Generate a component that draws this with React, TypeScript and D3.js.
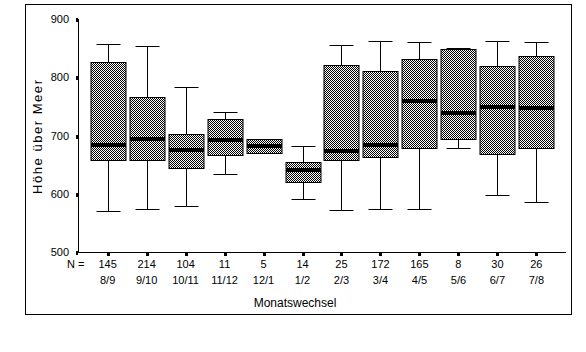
import React from 'react';
import * as d3 from 'd3';

// Monatswechsel categories and counts
const months = ['8/9', '9/10', '10/11', '11/12', '12/1', '1/2', '2/3', '3/4', '4/5', '5/6', '6/7', '7/8'];
const counts = [145, 214, 104, 11, 5, 14, 25, 172, 165, 8, 30, 26];

// box statistics (Höhe über Meer)
const whiskerLow = [570, 575, 579, 635, 671, 591, 572, 574, 574, 678, 598, 586];
const quartLow = [658, 658, 644, 667, 671, 620, 659, 663, 678, 694, 668, 678];
const medians = [684, 694, 676, 692, 683, 641, 674, 684, 760, 738, 749, 747];
const quartHigh = [827, 767, 702, 728, 694, 654, 821, 811, 831, 848, 819, 836];
const whiskerHigh = [857, 853, 783, 740, 694, 683, 855, 862, 860, 851, 862, 860];

const yTicks = [500, 600, 700, 800, 900];

const W = 586;
const H = 352;
const font = 'Arial, "Liberation Sans", Helvetica, sans-serif';

const App = () => {
  const x = d3.scalePoint<string>().domain(months).range([78, 566]).padding(0.76);
  const y = d3.scaleLinear().domain([500, 900]).range([252.3, 19]);

  const boxW = 35;
  const capW = 24;

  return (
    <svg width={W} height={H} style={{ position: 'absolute', left: 0, top: 0, background: '#fff' }}>
      <defs>
        <pattern id="dither" width={2} height={2} patternUnits="userSpaceOnUse">
          <rect width={2} height={2} fill="#fff" />
          <rect x={0} y={0} width={1} height={1} fill="#000" />
          <rect x={1} y={1} width={1} height={1} fill="#000" />
        </pattern>
      </defs>

      {/* outer frame */}
      <rect x={25.5} y={4.5} width={546} height={310} fill="none" stroke="#000" strokeWidth={1} />

      {/* y axis */}
      <line x1={78.5} x2={78.5} y1={y(900)} y2={252.5} stroke="#000" shapeRendering="crispEdges" />
      {yTicks.map((t) => (
        <g key={t}>
          <rect x={76} y={Math.round(y(t)) - 1} width={2} height={4} fill="#000" />
          <text x={69} y={y(t) + 4} textAnchor="end" fontFamily={font} fontSize={11}>
            {t}
          </text>
        </g>
      ))}
      <text
        transform={`translate(42,137) rotate(-90)`}
        textAnchor="middle"
        fontFamily={font}
        fontSize={13}
        textLength={114}
        lengthAdjust="spacing"
      >
        Höhe über Meer
      </text>

      {/* x axis */}
      <line x1={78} x2={566} y1={252.5} y2={252.5} stroke="#000" shapeRendering="crispEdges" />
      {months.map((m) => (
        <rect key={m} x={Math.round(x(m)!) - 1} y={253} width={3} height={3} fill="#000" />
      ))}
      <text x={67} y={268} fontFamily={font} fontSize={11}>
        N =
      </text>
      {months.map((m, i) => (
        <g key={'l' + m} fontFamily={font} fontSize={11} textAnchor="middle">
          <text x={x(m)} y={268}>{counts[i]}</text>
          <text x={x(m)} y={284}>{m}</text>
        </g>
      ))}
      <text x={295} y={307} textAnchor="middle" fontFamily={font} fontSize={12}>
        Monatswechsel
      </text>

      {/* boxes */}
      {months.map((m, i) => {
        const cx = Math.round(x(m)!) + 0.5;
        const top = Math.round(y(quartHigh[i])) + 0.5;
        const bot = Math.round(y(quartLow[i])) + 0.5;
        const hi = Math.round(y(whiskerHigh[i])) + 0.5;
        const lo = Math.round(y(whiskerLow[i])) + 0.5;
        return (
          <g key={'b' + m} stroke="#000" strokeWidth={1}>
            <line x1={cx} x2={cx} y1={hi} y2={top} />
            <line x1={cx} x2={cx} y1={bot} y2={lo} />
            <line x1={cx - capW / 2} x2={cx + capW / 2} y1={hi} y2={hi} />
            <line x1={cx - capW / 2} x2={cx + capW / 2} y1={lo} y2={lo} />
            <rect
              x={cx - boxW / 2}
              y={top}
              width={boxW}
              height={Math.max(bot - top, 1)}
              fill="url(#dither)"
            />
            <rect
              x={cx - boxW / 2}
              y={Math.round(y(medians[i])) - 2}
              width={boxW}
              height={4}
              fill="#000"
              stroke="none"
            />
          </g>
        );
      })}
    </svg>
  );
};

export default App;
